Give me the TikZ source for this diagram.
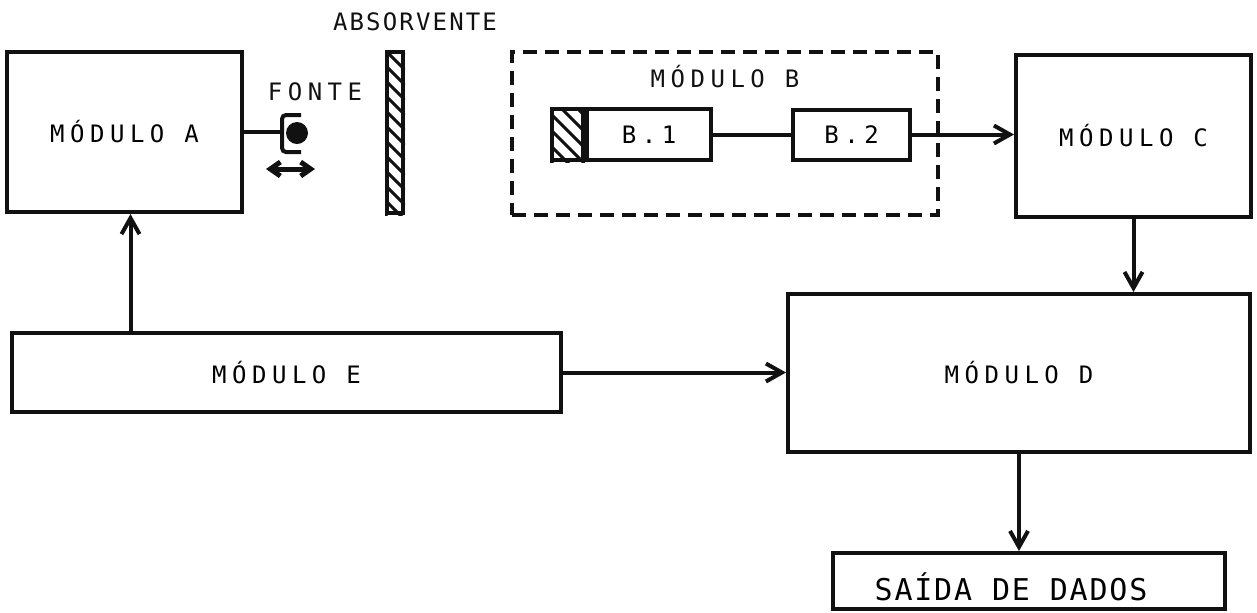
\documentclass[tikz,border=0pt]{standalone}
\usepackage{fontspec}
\setmainfont{DejaVu Sans Mono}[LetterSpace=23]
\usepackage{xcolor}
\usetikzlibrary{positioning,arrows.meta,calc}
\definecolor{ink}{HTML}{111111}

\begin{document}
\begin{tikzpicture}[
  x=0.5pt, y=-0.5pt,
  font=\fontsize{12}{14}\selectfont,
  >={Straight Barb[length=8pt,width=9pt]},
  line width=2pt, draw=ink,
  box/.style={draw=ink, line width=2pt, inner sep=0pt, align=center},
  grp/.style={box, dash pattern=on 7pt off 4pt},
  lbl/.style={inner sep=0pt, text=ink},
  hatch/.style={line width=1.5pt, draw=ink},
  arr/.style={->, line width=2pt, draw=ink},
]
\useasboundingbox (0,0) rectangle (1257,612);

% blocks
\node[box, minimum width=117.5pt, minimum height=80pt] (ma) at (124.5,132) {MÓDULO A};
\node[box, minimum width=8pt, minimum height=80.5pt] (abs) at (395,132.5) {};
\node[grp, minimum width=213pt, minimum height=81.5pt] (mb) at (725,133.5) {};
\node[box, minimum width=15.5pt, minimum height=25.5pt] (b1h) at (567.5,134.5) {};
\node[box, minimum width=62pt, minimum height=25.5pt, right=0pt of b1h] (b1) {B.1};
\node[box, minimum width=58.5pt, minimum height=25pt, right=39pt of b1] (b2) {B.2};
\node[box, minimum width=117.5pt, minimum height=81pt] (mc) at (1133.5,136) {MÓDULO C};
\node[box, minimum width=231pt, minimum height=79pt] (md) at (1019,373) {MÓDULO D};
\node[box, minimum width=274.5pt, minimum height=39.5pt] (me) at (286.5,372.5) {MÓDULO E};
\node[box, minimum width=196pt, minimum height=28pt, text height=20pt,
  font=\fontsize{15}{18}\selectfont\addfontfeature{LetterSpace=6}] (sd) at (1029,581) {SAÍDA DE DADOS\hspace*{18pt}};

% labels
\node[lbl] (lfonte) at (315,92) {FONTE};
\node[lbl, font=\fontsize{12}{14}\selectfont\addfontfeature{LetterSpace=9}] (labs) at (415,22) {ABSORVENTE};
\node[lbl] (lmb) at (725,77) {MÓDULO B};

% source
\coordinate (brk) at (282,133);
\node[circle, fill=ink, inner sep=0pt, minimum size=11pt] (src) at (297,133) {};
\draw[line join=round] (ma.east) -- (ma.east -| brk);
\draw[rounded corners=2pt] (301,115) -- (282,115) -- (282,152) -- (301,152);
\draw[{Straight Barb[length=5pt,width=7pt]}-{Straight Barb[length=5pt,width=7pt]}, line width=2.5pt] (266,169) -- (315,169);

% hatching
\begin{scope}
  \clip (abs.north west) rectangle (abs.south east);
  \foreach \k in {40,55,...,250} \draw[hatch] (385,\k-20) -- (405,\k);
\end{scope}
\begin{scope}
  \clip (b1h.north west) rectangle (b1h.south east);
  \foreach \k in {100,116,...,210} \draw[hatch] (550,\k-35) -- (585,\k);
\end{scope}

% connectors
\draw (b1) -- (b2);
\draw[arr] (b2.east) -- (b2.east -| mc.west);
\draw[arr] (mc.south) -- (mc.south |- md.north);
\draw[arr] ([xshift=3pt]me.north -| ma.south) -- ([xshift=3pt]ma.south);
\draw[arr] (me.east) -- (me.east -| md.west);
\draw[arr] (md.south) -- (md.south |- sd.north);
\end{tikzpicture}
\end{document}
